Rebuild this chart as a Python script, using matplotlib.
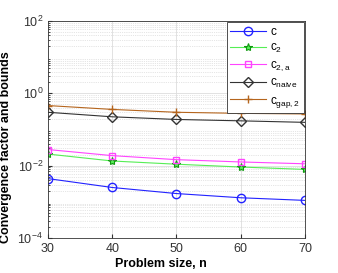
import numpy as np
import matplotlib
matplotlib.use('Agg')
import matplotlib.pyplot as plt

plt.rcParams['font.family'] = ['Liberation Sans', 'DejaVu Sans']
plt.rcParams['mathtext.fontset'] = 'custom'
plt.rcParams['mathtext.rm'] = 'Liberation Sans'

n = [30, 40, 50, 60, 70]
c = [0.0044, 0.0025, 0.0017, 0.0013, 0.0011]
c2 = [0.021, 0.0135, 0.011, 0.0092, 0.0079]
c2a = [0.028, 0.019, 0.0147, 0.0127, 0.0113]
cnaive = [0.30, 0.225, 0.19, 0.174, 0.158]
cgap2 = [0.46, 0.36, 0.30, 0.28, 0.27]

fig = plt.figure(figsize=(3.38, 2.73), dpi=100)
ax = fig.add_axes([0.142, 0.128, 0.76, 0.795])

ax.semilogy(n, c, '-o', color='#2222ff', lw=0.8, ms=6, mfc='none', mew=1.0, label='c')
ax.semilogy(n, c2, '-*', color='#55ee55', lw=0.8, ms=6, mec='#119911', mew=0.8, label=r'c$_\mathrm{2}$')
ax.semilogy(n, c2a, '-s', color='#ff44ff', lw=0.8, ms=5, mfc='none', mew=1.0, label=r'c$_\mathrm{2,a}$')
ax.semilogy(n, cnaive, '-D', color='#333333', lw=0.8, ms=5, mfc='none', mew=1.0, label=r'c$_\mathrm{naive}$')
ax.semilogy(n, cgap2, '-+', color='#b5651d', lw=0.8, ms=6, mew=1.0, label=r'c$_\mathrm{gap,2}$')

ax.set_xlim(30, 70)
ax.set_ylim(1e-4, 1e2)
ax.set_xticks([30, 40, 50, 60, 70])
ax.set_yticks([1e-4, 1e-2, 1e0, 1e2])
ax.grid(True, which='major', color='#dddddd', lw=0.6)
ax.grid(True, which='minor', color='#cccccc', lw=0.5, ls=':')
ax.minorticks_on()
ax.tick_params(which='both', direction='in', labelsize=9, length=3, colors='#333333')
ax.tick_params(which='minor', length=1.5)
ax.xaxis.set_minor_locator(matplotlib.ticker.NullLocator())
for s in ax.spines.values():
    s.set_color('#333333')
    s.set_linewidth(0.6)

ax.set_xlabel('Problem size, n', fontweight='bold', fontsize=9)
ax.set_ylabel('Convergence factor and bounds', fontweight='bold', fontsize=9)
ax.xaxis.set_label_coords(0.44, -0.09)
ax.yaxis.set_label_coords(-0.14, 0.42)

leg = ax.legend(loc='upper right', fontsize=8.5, fancybox=False, framealpha=1,
                edgecolor='#333333', borderaxespad=0.1, handlelength=3.0,
                handletextpad=0.4, labelspacing=0.35, borderpad=0.3)
leg.get_frame().set_linewidth(0.6)

fig.savefig('out.png', dpi=100)
